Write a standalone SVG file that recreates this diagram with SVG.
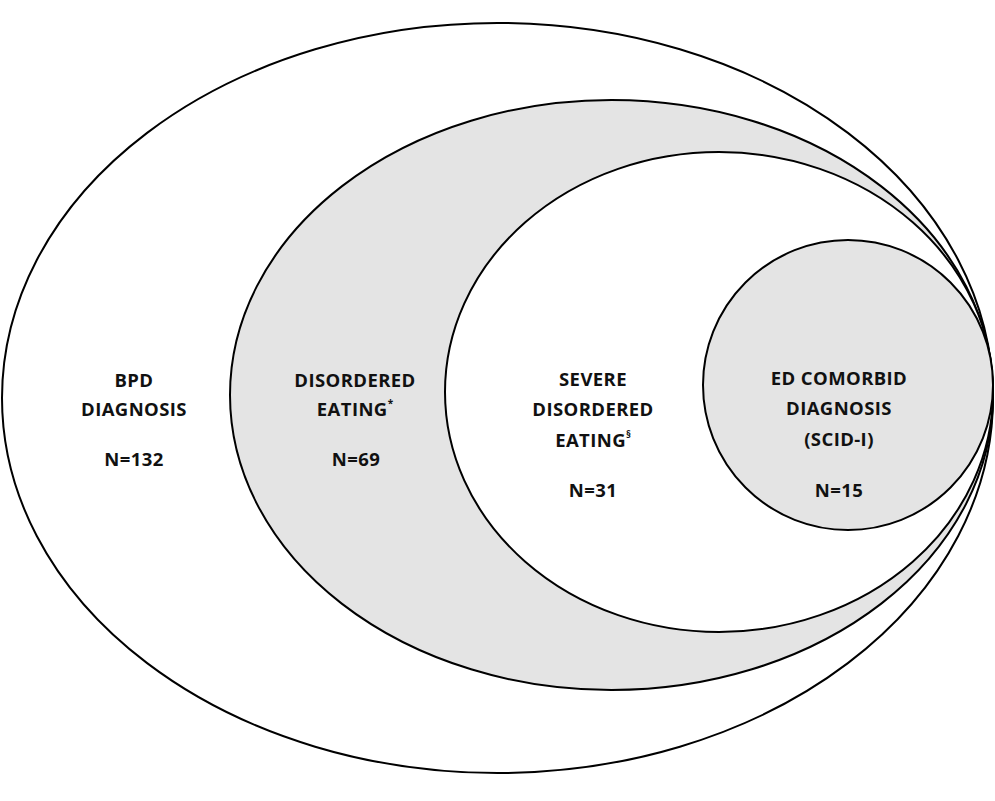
<svg xmlns="http://www.w3.org/2000/svg" width="995" height="801" viewBox="0 0 995 801">
<style>
.sh{stroke:#000;stroke-width:2}
.w{fill:#fff}
.g{fill:#e4e4e4}
text{font-family:"Open Sans","Liberation Sans",sans-serif;font-weight:700;font-size:18.5px;letter-spacing:0.4px;text-anchor:middle;fill:#111}
.sup{font-size:10px;letter-spacing:0}
</style>
<rect width="995" height="801" fill="#fff"/>
<g id="bpd">
<ellipse class="sh w" cx="497.5" cy="398" rx="495.5" ry="375"/>
<text x="134" y="387">BPD</text>
<text x="134" y="416">DIAGNOSIS</text>
<text x="134" y="466">N=132</text>
</g>
<g id="disordered">
<ellipse class="sh g" cx="611.5" cy="395" rx="381.5" ry="295"/>
<text x="355" y="387">DISORDERED</text>
<text x="355" y="416">EATING<tspan class="sup" dy="-9">*</tspan></text>
<text x="356" y="466">N=69</text>
</g>
<g id="severe">
<ellipse class="sh w" cx="719" cy="392" rx="274" ry="240"/>
<text x="593" y="386">SEVERE</text>
<text x="593" y="416">DISORDERED</text>
<text x="593" y="447">EATING<tspan class="sup" dy="-9">§</tspan></text>
<text x="593" y="497">N=31</text>
</g>
<g id="comorbid">
<circle class="sh g" cx="848" cy="385" r="145"/>
<text x="839" y="385">ED COMORBID</text>
<text x="839" y="415">DIAGNOSIS</text>
<text x="839" y="446">(SCID-I)</text>
<text x="839" y="497">N=15</text>
</g>
<g id="connectors"></g>
</svg>
